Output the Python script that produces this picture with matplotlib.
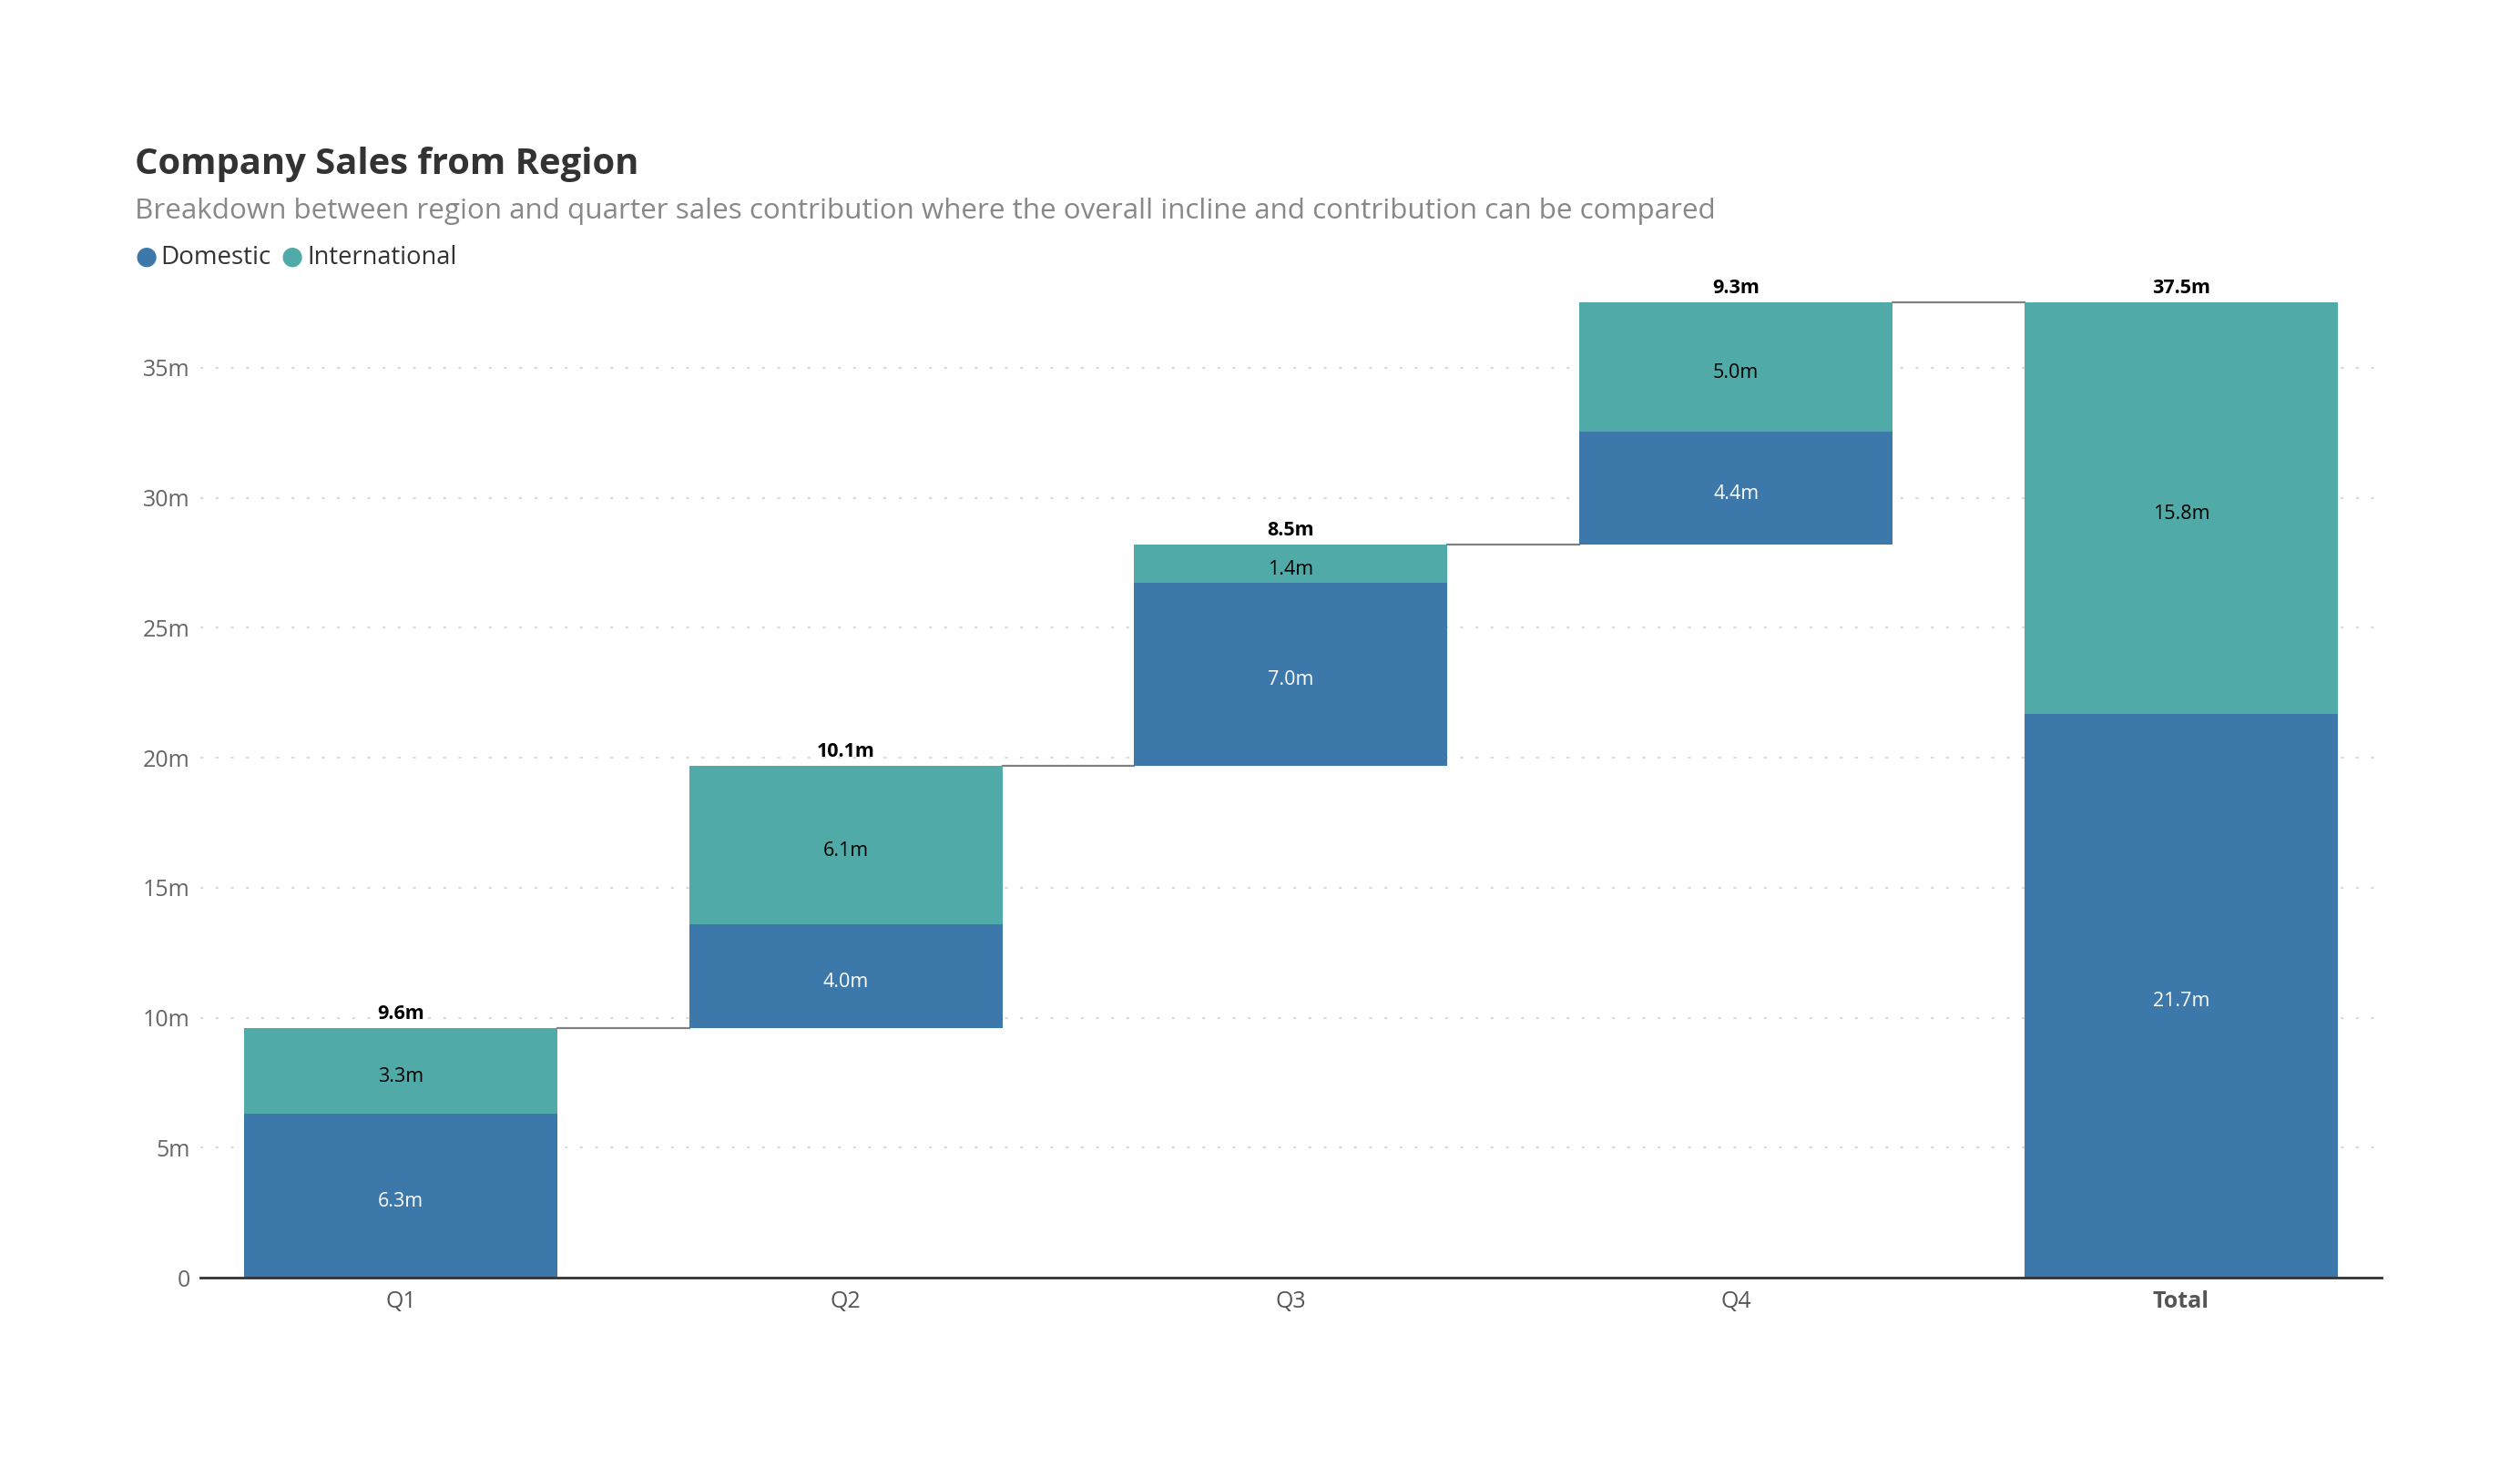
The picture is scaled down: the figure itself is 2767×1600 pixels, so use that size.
import matplotlib
matplotlib.use("Agg")
import matplotlib.pyplot as plt
import numpy as np

plt.rcParams['font.family'] = ['Open Sans', 'DejaVu Sans']

quarters = ["Q1", "Q2", "Q3", "Q4", "Total"]
domestic = [6.3, 4.0, 7.04, 4.36]
international = [3.3, 6.1, 1.45, 4.96]
yticks = [0, 5, 10, 15, 20, 25, 30, 35]
ytick_labels = ["0", "5m", "10m", "15m", "20m", "25m", "30m", "35m"]

c_dom = "#3d78ab"
c_int = "#50aaa7"

dom = np.array(domestic + [sum(domestic)])
intl = np.array(international + [sum(international)])
totals = dom + intl
base = np.concatenate([[0], np.cumsum(totals[:-1])[:-1], [0]])
x = np.arange(len(quarters))
w = 0.704

fig = plt.figure(figsize=(27.67, 16), dpi=100)
ax = fig.add_axes([0.0795, 0.123, 0.8655, 0.687])

for y in yticks[1:]:
    ax.axhline(y, color="#dcdcdc", lw=1.6, ls=(0, (1.5, 6)), zorder=0)

ax.bar(x, dom, w, bottom=base, color=c_dom, zorder=2)
ax.bar(x, intl, w, bottom=base + dom, color=c_int, zorder=2)

# connectors between steps
tops = base + totals
for i in range(len(x) - 1):
    ax.plot([x[i] + w / 2, x[i + 1] - w / 2], [tops[i], tops[i]],
            color="#808080", lw=1.6, zorder=1)

for i in range(len(x)):
    ax.text(x[i], base[i] + dom[i] / 2 - 0.22, f"{dom[i]:.1f}m", ha="center", va="center",
            color="white", fontsize=15.5)
    ax.text(x[i], base[i] + dom[i] + intl[i] / 2 - 0.22, f"{intl[i]:.1f}m", ha="center",
            va="center", color="black", fontsize=15.5)
    ax.text(x[i], tops[i] + 0.18, f"{totals[i]:.1f}m", ha="center", va="bottom",
            color="black", fontsize=15.5, fontweight="bold")

ax.set_xlim(-0.45, 4.45)
ax.set_ylim(0, 38.5)
ax.set_yticks(yticks)
ax.set_yticklabels(ytick_labels)
ax.set_xticks(x)
ax.set_xticklabels(quarters)
ax.tick_params(axis="y", length=0, pad=8, labelsize=18, labelcolor="#666666")
ax.tick_params(axis="x", length=0, pad=10, labelsize=18, labelcolor="#555555")
ax.get_xticklabels()[-1].set_fontweight("bold")
for s in ["top", "right", "left"]:
    ax.spines[s].set_visible(False)
ax.spines["bottom"].set_color("#333333")
ax.spines["bottom"].set_linewidth(2)

fig.text(148 / 2767, 1 - 181 / 1600, "Company Sales from Region", fontsize=28.8,
         fontweight="bold", color="#333333", va="center")
fig.text(148 / 2767, 1 - 232 / 1600,
         "Breakdown between region and quarter sales contribution where the overall incline and contribution can be compared",
         fontsize=22.6, color="#888888", va="center")

# legend
ly = 1 - 283 / 1600
fig.text(148 / 2767, ly, "\u25cf", color=c_dom, fontsize=20, va="center")
fig.text(176 / 2767, ly, "Domestic", color="#333333", fontsize=20, va="center")
fig.text(309 / 2767, ly, "\u25cf", color=c_int, fontsize=20, va="center")
fig.text(337 / 2767, ly, "International", color="#333333", fontsize=19.6, va="center")

fig.savefig("out.png", dpi=100, facecolor="white")
